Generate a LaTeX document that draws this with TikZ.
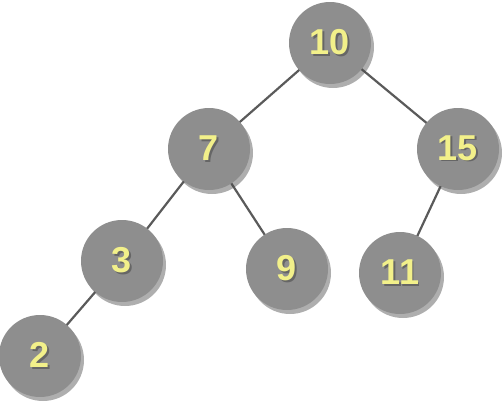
\documentclass[tikz,border=0pt]{standalone}
\usepackage{fontspec}
\setmainfont{Liberation Sans}
\usetikzlibrary{shadows}
\definecolor{nodefill}{HTML}{8E8E8E}
\definecolor{numcol}{HTML}{F2F08A}
\definecolor{edgecol}{HTML}{5A5A5A}
\newcommand\shnum[1]{\leavevmode\rlap{\kern1.5pt\raisebox{-1.5pt}{\textcolor{black!60}{#1}}}\textcolor{numcol}{#1}}
\tikzset{
  treenode/.style={circle, fill=nodefill, minimum size=82pt, inner sep=0pt,
    drop shadow={shadow xshift=3pt, shadow yshift=-4pt, opacity=0.45, fill=black!70},
    font=\fontsize{36}{36}\selectfont\bfseries},
  edge/.style={draw=edgecol, line width=2.2pt}
}
\begin{document}
\begin{tikzpicture}[x=1pt,y=-1pt]
\useasboundingbox (0,0) rectangle (504,405);
\coordinate (p10) at (330,43);
\coordinate (p7) at (209,149);
\coordinate (p15) at (458,149);
\coordinate (p3) at (122,261);
\coordinate (p9) at (287,269);
\coordinate (p11) at (400,273);
\coordinate (p2) at (40,356);
\draw[edge] (p10) -- (p7);
\draw[edge] (p10) -- (p15);
\draw[edge] (p7) -- (p3);
\draw[edge] (p7) -- (p9);
\draw[edge] (p15) -- (p11);
\draw[edge] (p3) -- (p2);
\node[treenode] (n10) at (p10) {\shnum{10}};
\node[treenode] (n7) at (p7) {\shnum{7}};
\node[treenode] (n15) at (p15) {\shnum{15}};
\node[treenode] (n3) at (p3) {\shnum{3}};
\node[treenode] (n9) at (p9) {\shnum{9}};
\node[treenode] (n11) at (p11) {\shnum{11}};
\node[treenode] (n2) at (p2) {\shnum{2}};
\end{tikzpicture}
\end{document}
